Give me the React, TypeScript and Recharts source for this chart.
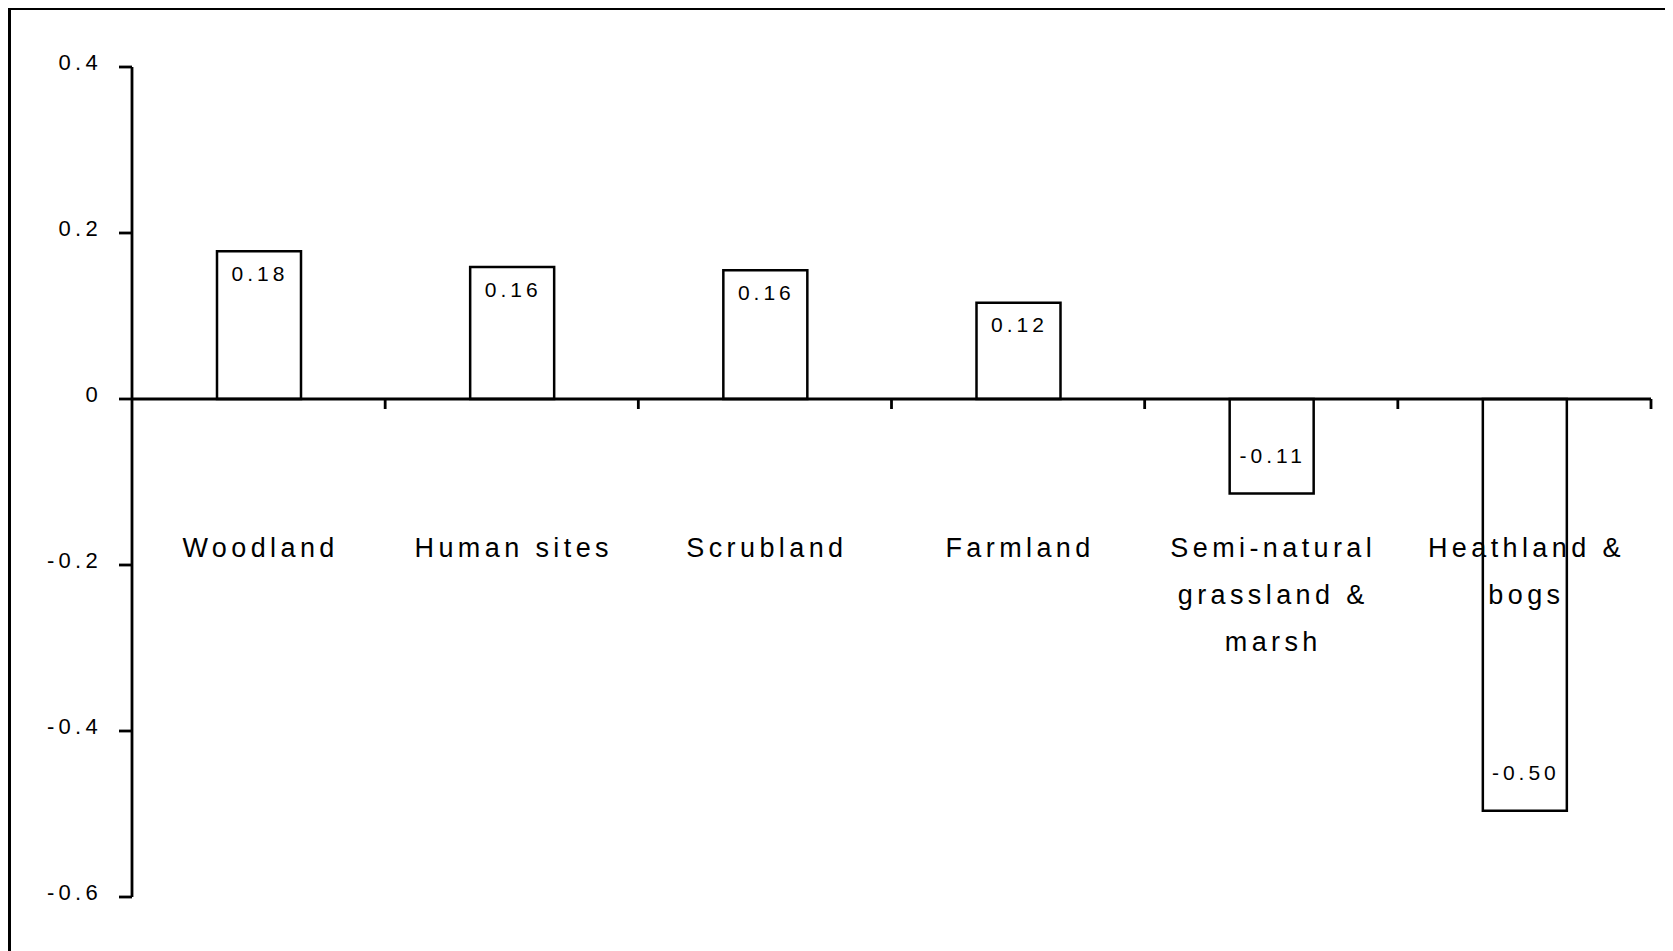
import React from "react";
import { BarChart, Bar, XAxis, YAxis, ReferenceLine, LabelList } from "recharts";

// ---- data ----
const categories = [
  "Woodland",
  "Human sites",
  "Scrubland",
  "Farmland",
  "Semi-natural grassland & marsh",
  "Heathland & bogs",
];
const categoryLabelLines = [
  ["Woodland"],
  ["Human sites"],
  ["Scrubland"],
  ["Farmland"],
  ["Semi-natural", "grassland &", "marsh"],
  ["Heathland &", "bogs"],
];
const values = [0.178, 0.159, 0.155, 0.116, -0.114, -0.496];
const valueLabels = ["0.18", "0.16", "0.16", "0.12", "-0.11", "-0.50"];
const yTicks = [-0.6, -0.4, -0.2, 0, 0.2, 0.4];
const yTickLabels = ["-0.6", "-0.4", "-0.2", "0", "0.2", "0.4"];

const data = categories.map((name, i) => ({ name, value: values[i], label: valueLabels[i] }));

// ---- layout ----
const W = 1665;
const H = 943;
const M_TOP = 59;
const M_LEFT = 24;
const Y_AXIS_W = 100;
const M_RIGHT = 22;
const X_AXIS_H = 30;
const M_BOTTOM = 24;
const PLOT_LEFT = M_LEFT + Y_AXIS_W;
const PLOT_W = W - PLOT_LEFT - M_RIGHT;
const PLOT_H = H - M_TOP - M_BOTTOM - X_AXIS_H;
const Y_MIN = -0.6;
const Y_MAX = 0.4;
const ZERO_Y = M_TOP + (PLOT_H * Y_MAX) / (Y_MAX - Y_MIN);
const BAND = PLOT_W / categories.length;
const CAT_LABEL_Y = 539;
const CAT_LINE_H = 47;
const FONT = "'Liberation Sans', Arial, Helvetica, sans-serif";

const XTick = (props: any) => {
  const { x, payload } = props;
  const idx = payload.index;
  const lines = categoryLabelLines[idx] || [];
  const bx = x + BAND / 2;
  return (
    <g>
      <line x1={bx} x2={bx} y1={ZERO_Y} y2={ZERO_Y + 10} stroke="#000" strokeWidth={2.8} />
      {lines.map((ln, k) => (
        <text
          key={k}
          x={x + 2}
          y={CAT_LABEL_Y + k * CAT_LINE_H}
          dy="0.36em"
          textAnchor="middle"
          fontSize={27}
          fill="#000"
          fontFamily={FONT}
          style={{ letterSpacing: "4.4px" }}
        >
          {ln}
        </text>
      ))}
    </g>
  );
};

const YTick = (props: any) => {
  const { x, y, payload } = props;
  const i = yTicks.indexOf(payload.value);
  const lbl = i >= 0 ? yTickLabels[i] : String(payload.value);
  return (
    <text
      x={x}
      y={y - 4.5}
      dy="0.36em"
      textAnchor="end"
      fontSize={22}
      fill="#000"
      fontFamily={FONT}
      style={{ letterSpacing: "4.3px" }}
    >
      {lbl}
    </text>
  );
};

const BarValueLabel = (props: any) => {
  const { x, y, width, height, index } = props;
  const top = Math.min(y, y + height);
  const bottom = Math.max(y, y + height);
  const v = values[index];
  const cy = v >= 0 ? top + 22 : bottom - 38;
  return (
    <text
      x={x + width / 2 + 1}
      y={cy}
      dy="0.36em"
      textAnchor="middle"
      fontSize={21}
      fill="#000"
      fontFamily={FONT}
      style={{ letterSpacing: "4px" }}
    >
      {valueLabels[index]}
    </text>
  );
};

export default function App() {
  return (
    <div style={{ position: "relative", width: W, height: H, overflow: "hidden", background: "#fff" }}>
      <div
        style={{
          position: "absolute",
          left: 0,
          top: -1,
          right: -20,
          bottom: -20,
          borderTop: "3px solid #000",
          borderLeft: "3px solid #000",
        }}
      />
      <BarChart
        width={W}
        height={H}
        data={data}
        margin={{ top: M_TOP, right: M_RIGHT, bottom: M_BOTTOM, left: M_LEFT }}
        barSize={84}
      >
        <XAxis
          dataKey="name"
          height={X_AXIS_H}
          axisLine={false}
          tickLine={false}
          interval={0}
          tick={<XTick />}
        />
        <YAxis
          type="number"
          width={Y_AXIS_W}
          domain={[Y_MIN, Y_MAX]}
          ticks={yTicks}
          interval={0}
          axisLine={{ stroke: "#000", strokeWidth: 2.8 }}
          tickLine={{ stroke: "#000", strokeWidth: 2.8 }}
          tickSize={13}
          tickMargin={17}
          tick={<YTick />}
        />
        <Bar dataKey="value" fill="#fff" stroke="#000" strokeWidth={2.5} isAnimationActive={false}>
          <LabelList dataKey="label" content={<BarValueLabel />} />
        </Bar>
        <ReferenceLine y={0} stroke="#000" strokeWidth={2.8} />
      </BarChart>
    </div>
  );
}
